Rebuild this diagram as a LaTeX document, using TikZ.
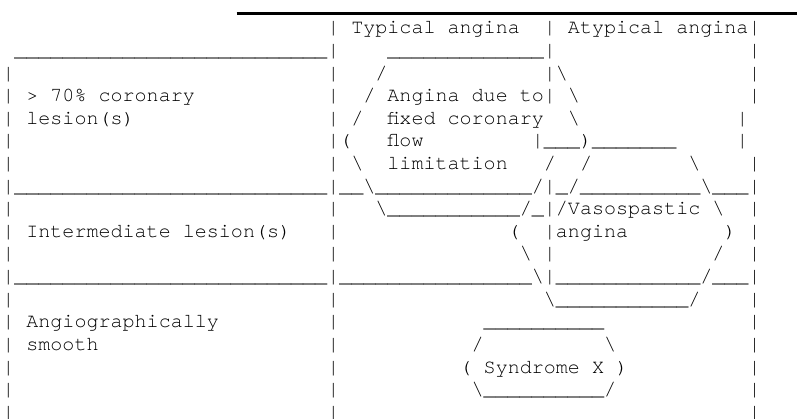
\documentclass[tikz,border=0pt]{standalone}
\usepackage{fontspec}
\newfontfamily\asciifamily{TeX Gyre Cursor}
\ExplSyntaxOn
\NewDocumentCommand\US{m}{\prg_replicate:nn{#1}{\_}}
\NewDocumentCommand\SK{m}{\prg_replicate:nn{#1}{\nobreakspace}}
\ExplSyntaxOff
\newcommand\BS{\textbackslash}
\tikzset{
  asciirow/.style={anchor=base west, inner sep=0pt, outer sep=0pt,
    font=\asciifamily\fontsize{20.06pt}{22.6pt}\selectfont, text=black},
  toprule/.style={line width=3.4pt, black}
}
\newcommand\arow[2]{\node[asciirow] (r#1) at (2.3,{34+(#1-1)*22.6}) {#2};}
\begin{document}
\begin{tikzpicture}[x=1pt,y=-1pt]
\fill[white] (0,0) rectangle (797,419);
\useasboundingbox (0,0) rectangle (797,419);
\coordinate (ruleA) at (236.7,13.7);
\coordinate (ruleB) at (797,13.7);
\draw[toprule] (ruleA) -- (ruleB);
\arow{1}{\SK{27}|~Typical~angina\SK{2}|~Atypical~angina|}
\arow{2}{\SK{1}\US{26}|\SK{4}\US{13}|\SK{16}|}
\arow{3}{|\SK{26}|\SK{3}/\SK{13}|\BS\SK{15}|}
\arow{4}{|~>~70\%~coronary\SK{11}|\SK{2}/~Angina~due~to|~\BS\SK{14}|}
\arow{5}{|~lesion(s)\SK{16}|~/\SK{2}fixed~coronary\SK{2}\BS\SK{13}|}
\arow{6}{|\SK{26}|(\SK{3}flow\SK{9}|\US{3})\US{7}\SK{5}|}
\arow{7}{|\SK{26}|~\BS\SK{2}limitation\SK{3}/\SK{2}/\SK{8}\BS\SK{4}|}
\arow{8}{|\US{26}|\US{2}\BS\US{13}/|\_/\US{10}\BS\US{3}|}
\arow{9}{|\SK{26}|\SK{3}\BS\US{11}/\_|/Vasospastic~\BS\SK{2}|}
\arow{10}{|~Intermediate~lesion(s)\SK{3}|\SK{14}(\SK{2}|angina\SK{8})~|}
\arow{11}{|\SK{26}|\SK{15}\BS~|\SK{13}/\SK{2}|}
\arow{12}{|\US{26}|\US{16}\BS|\US{12}/\US{3}|}
\arow{13}{|\SK{26}|\SK{17}\BS\US{11}/\SK{4}|}
\arow{14}{|~Angiographically\SK{9}|\SK{12}\US{10}\SK{12}|}
\arow{15}{|~smooth\SK{19}|\SK{11}/\SK{10}\BS\SK{11}|}
\arow{16}{|\SK{26}|\SK{10}(~Syndrome~X~)\SK{10}|}
\arow{17}{|\SK{26}|\SK{11}\BS\US{10}/\SK{11}|}
\arow{18}{|\SK{26}|\SK{34}|}
\end{tikzpicture}
\end{document}
